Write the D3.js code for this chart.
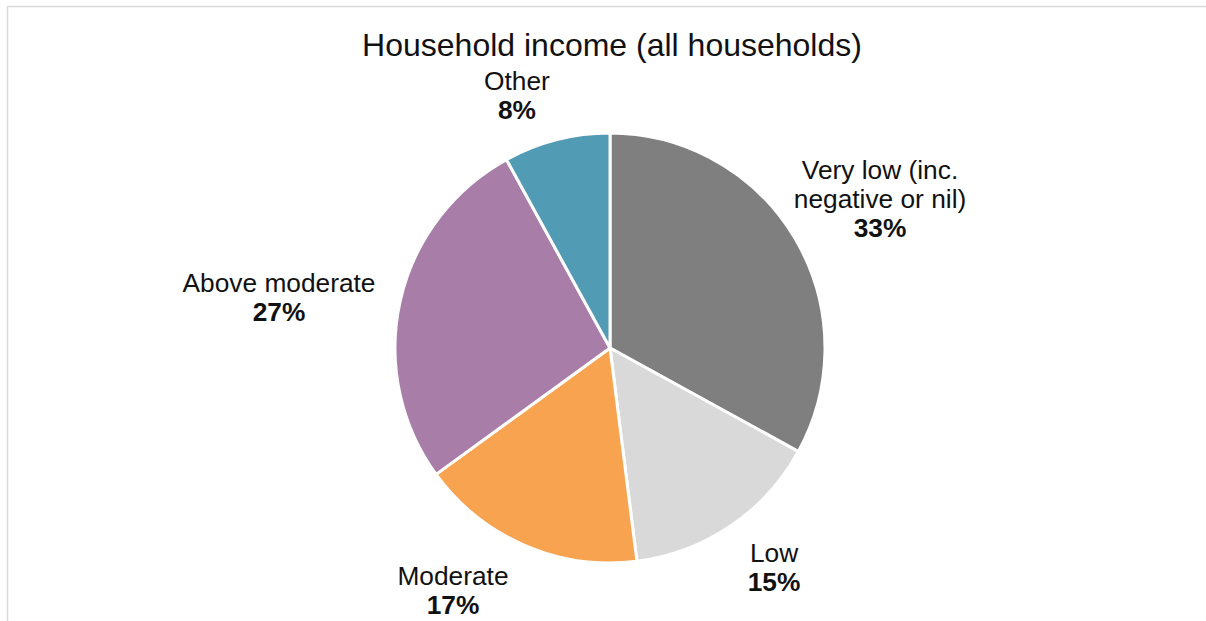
<!DOCTYPE html>
<html>
<head>
<meta charset="utf-8">
<script src="https://cdn.jsdelivr.net/npm/d3@7"></script>
<style>
  html, body { margin: 0; padding: 0; background: #fff; }
  svg { display: block; }
  text { font-family: "Liberation Sans", Arial, sans-serif; fill: #111; }
</style>
</head>
<body>
<svg id="chart" width="1206" height="621"></svg>
<script>
// Household income bands, share of all households (%)
const categories = ["Very low (inc. negative or nil)", "Low", "Moderate", "Above moderate", "Other"];
const values = [33, 15, 17, 27, 8];
const colors = ["#7f7f7f", "#d9d9d9", "#f8a350", "#a87ea9", "#519bb5"];
// Label text split into lines, and label anchor points (x, y of first baseline)
const labelLines = [["Very low (inc.", "negative or nil)"], ["Low"], ["Moderate"], ["Above moderate"], ["Other"]];
const labelPos = [[880, 179], [774, 562], [453, 585], [279, 292], [517, 90]];
const title = "Household income (all households)";

const svg = d3.select("#chart");
const cx = 610, cy = 348, r = 215;

// frame
svg.append("path")
  .attr("d", "M7.5,621 V6.5 H1206")
  .attr("fill", "none")
  .attr("stroke", "#d9d9d9")
  .attr("stroke-width", 1.5);

svg.append("text")
  .attr("x", 612).attr("y", 56)
  .attr("text-anchor", "middle")
  .attr("font-size", 32)
  .text(title);

const data = categories.map((c, i) => ({ name: c, value: values[i], color: colors[i], lines: labelLines[i], pos: labelPos[i] }));

const pie = d3.pie().value(d => d.value).sort(null);
const arc = d3.arc().innerRadius(0).outerRadius(r);

const g = svg.append("g").attr("transform", `translate(${cx},${cy})`);
g.selectAll("path")
  .data(pie(data))
  .join("path")
  .attr("d", arc)
  .attr("fill", d => d.data.color)
  .attr("stroke", "#fff")
  .attr("stroke-width", 3)
  .attr("stroke-linejoin", "round");

const lineH = 29;
const labels = svg.selectAll("g.label")
  .data(data)
  .join("g")
  .attr("class", "label");

labels.each(function(d) {
  const t = d3.select(this).append("text")
    .attr("text-anchor", "middle")
    .attr("font-size", 26.3);
  d.lines.forEach((ln, k) => {
    t.append("tspan").attr("x", d.pos[0]).attr("y", d.pos[1] + k * lineH).text(ln);
  });
  t.append("tspan")
    .attr("x", d.pos[0]).attr("y", d.pos[1] + d.lines.length * lineH)
    .attr("font-weight", "bold")
    .text(d.value + "%");
});
</script>
</body>
</html>
